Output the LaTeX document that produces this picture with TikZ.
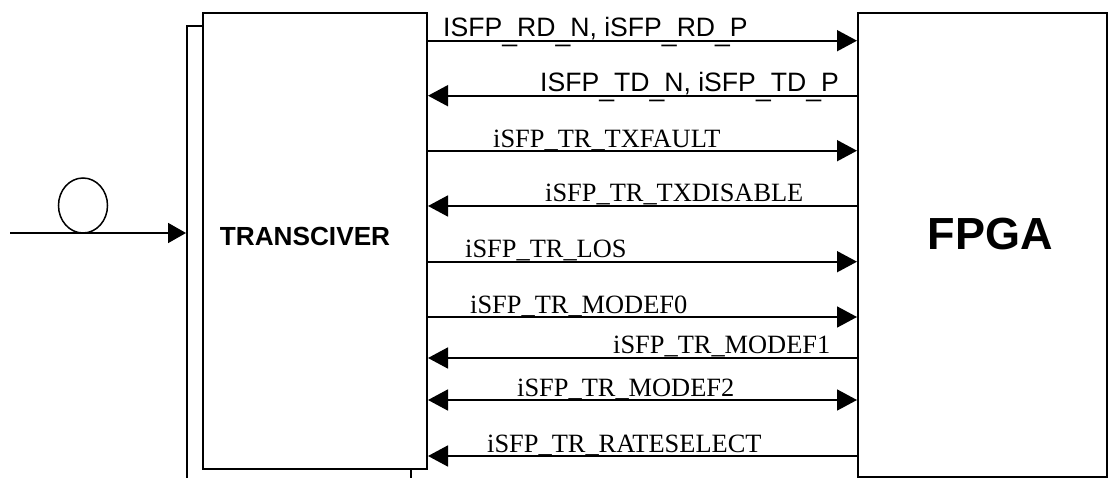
\documentclass[tikz,border=0pt]{standalone}
\usepackage{fontspec}
\setmainfont{Liberation Serif}
\newfontfamily\arial{Liberation Sans}
\usetikzlibrary{arrows.meta,shapes.geometric}
\newcommand\lowus{\raisebox{-4.5pt}{\_}}
\tikzset{
  box/.style={draw,line width=2pt,rectangle,inner sep=0pt,fill=white},
  sig/.style={line width=1.7pt,-{Triangle[length=20pt,width=21pt]}},
  sigl/.style={line width=1.7pt,{Triangle[length=20pt,width=21pt]}-},
  sigb/.style={line width=1.7pt,{Triangle[length=20pt,width=21pt]}-{Triangle[length=20pt,width=21pt]}},
  lbls/.style={anchor=base west,inner sep=0pt,font=\arial\fontsize{26.6}{30}\selectfont},
  lblt/.style={anchor=base west,inner sep=0pt,font=\fontsize{26.4}{30}\selectfont},
}
\begin{document}
\begin{tikzpicture}[x=1pt,y=-1pt]
\useasboundingbox (0,0) rectangle (1109,478);
\clip (0,0) rectangle (1109,478);
% boxes
\node[box,minimum width=224pt,minimum height=474pt] (back) at (299,263) {};
\node[box,minimum width=224pt,minimum height=456pt] (trx) at (315,241) {};
\node[box,minimum width=249pt,minimum height=464pt] (fpga) at (982.5,244.7) {};
\node[inner sep=0pt,font=\arial\bfseries\fontsize{26.2}{30}\selectfont] (trxl) at (305,236) {TRANSCIVER};
\node[inner sep=0pt,font=\arial\bfseries\fontsize{45}{50}\selectfont] (fpgal) at (990,234) {FPGA};
% fibre input
\node[draw,ellipse,line width=1.5pt,minimum width=49pt,minimum height=55pt,inner sep=0pt] (fiber) at (83,205.5) {};
\coordinate (in) at (10,233);
\draw[line width=1.7pt,-{Triangle[length=18pt,width=20pt]}] (in) -- (back.west |- in);
% labels (sans labels first, so the connector covers their underscores)
\node[lbls] (la) at (443,36.7) {ISFP\lowus RD\lowus N, iSFP\lowus RD\lowus P};
\node[lbls] (lb) at (540,91.7) {ISFP\lowus TD\lowus N, iSFP\lowus TD\lowus P};
\node[lblt] (lc) at (493,147.3) {iSFP\_TR\_TXFAULT};
\node[lblt] (ld) at (545,202) {iSFP\_TR\_TXDISABLE};
\node[lblt] (le) at (465,258) {iSFP\_TR\_LOS};
\node[lblt] (lf) at (470,313.3) {iSFP\_TR\_MODEF0};
\node[lblt] (lg) at (613,353.8) {iSFP\_TR\_MODEF1};
\node[lblt] (lh) at (517,396) {iSFP\_TR\_MODEF2};
\node[lblt] (li) at (487,452) {iSFP\_TR\_RATESELECT};
% signals
\foreach \y/\n in {40.7/a,95.7/b,150.7/c,206/d,261.7/e,317/f,358/g,400/h,456/i}{
  \coordinate (t\n) at (trx.east |- 0,\y);
  \coordinate (f\n) at (fpga.west |- 0,\y);
}
\draw[sig] (ta) -- (fa);
\draw[sigl] (tb) -- (fb);
\draw[sig] (tc) -- (fc);
\draw[sigl] (td) -- (fd);
\draw[sig] (te) -- (fe);
\draw[sig] (tf) -- (ff);
\draw[sigl] (tg) -- (fg);
\draw[sigb] (th) -- (fh);
\draw[sigl] (ti) -- (fi);
\end{tikzpicture}
\end{document}
